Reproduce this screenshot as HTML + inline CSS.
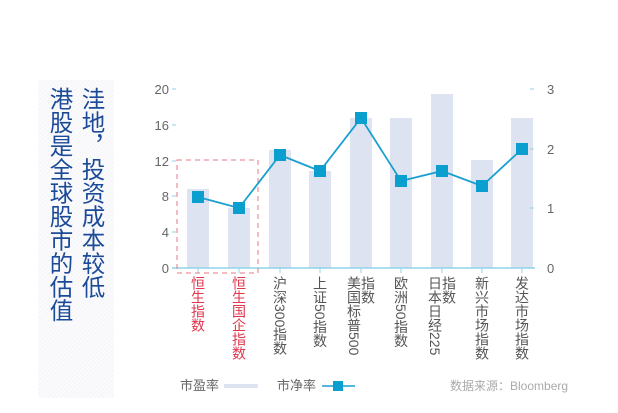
<!DOCTYPE html><html><head><meta charset="utf-8"><style>
body{margin:0;width:618px;height:413px;background:#fff;overflow:hidden;position:relative;font-family:"Liberation Sans","Noto Sans CJK SC",sans-serif}
.panel{position:absolute;left:38px;top:80px;width:76px;height:318px;background:repeating-linear-gradient(135deg,#f4f5f8 0 1px,#fbfbfd 1px 3px)}
.t{position:absolute;writing-mode:vertical-rl;color:#1b4a98;font-size:23.5px;line-height:23.5px}
.lab{position:absolute;top:276px;writing-mode:vertical-lr;font-size:14px;line-height:14px;color:#555}
.red{color:#e0364e}
</style></head><body>
<div class="panel"></div>
<div class="t" style="left:47px;top:87px">港股是全球股市的估值</div>
<div class="t" style="left:79px;top:87px">洼地，投资成本较低</div>
<svg width="618" height="413" style="position:absolute;left:0;top:0" font-family="Liberation Sans" font-size="13" fill="#666">
<g fill="#dde3f0">
<rect x="187" y="189" width="22" height="79"/><rect x="228" y="208" width="22" height="60"/>
<rect x="269" y="150" width="22" height="118"/><rect x="309" y="171" width="22" height="97"/>
<rect x="350" y="118" width="22" height="150"/><rect x="390" y="118" width="22" height="150"/>
<rect x="431" y="94" width="22" height="174"/><rect x="471" y="160" width="22" height="108"/>
<rect x="511" y="118" width="22" height="150"/></g>
<line x1="172" y1="268" x2="535" y2="268" stroke="#8fd3e8" stroke-width="1.5"/>
<g stroke="#8fd3e8"><line x1="172" y1="89" x2="176" y2="89"/><line x1="172" y1="125" x2="176" y2="125"/><line x1="172" y1="161" x2="176" y2="161"/><line x1="172" y1="196" x2="176" y2="196"/><line x1="172" y1="232" x2="176" y2="232"/>
<line x1="530" y1="89" x2="534" y2="89"/><line x1="530" y1="149" x2="534" y2="149"/><line x1="530" y1="208" x2="534" y2="208"/>
<line x1="198" y1="268" x2="198" y2="273"/><line x1="239" y1="268" x2="239" y2="273"/><line x1="280" y1="268" x2="280" y2="273"/><line x1="320" y1="268" x2="320" y2="273"/><line x1="361" y1="268" x2="361" y2="273"/><line x1="401" y1="268" x2="401" y2="273"/><line x1="442" y1="268" x2="442" y2="273"/><line x1="482" y1="268" x2="482" y2="273"/><line x1="522" y1="268" x2="522" y2="273"/></g>
<g text-anchor="end"><text x="169" y="94">20</text><text x="169" y="130">16</text><text x="169" y="166">12</text><text x="169" y="201">8</text><text x="169" y="237">4</text><text x="169" y="273">0</text></g>
<text x="547" y="94">3</text><text x="547" y="154">2</text><text x="547" y="213">1</text><text x="547" y="273">0</text>
<rect x="177" y="160" width="81" height="113" fill="none" stroke="#e57a86" stroke-dasharray="5,4"/>
<polyline points="198,197 239,208 280,155 320,171 361,118 401,181 442,171 482,186 522,149" fill="none" stroke="#1a9fd0" stroke-width="1.8"/>
<g fill="#0b9fd0"><rect x="192" y="191" width="12" height="12"/><rect x="233" y="202" width="12" height="12"/><rect x="274" y="149" width="12" height="12"/><rect x="314" y="165" width="12" height="12"/><rect x="355" y="112" width="12" height="12"/><rect x="395" y="175" width="12" height="12"/><rect x="436" y="165" width="12" height="12"/><rect x="476" y="180" width="12" height="12"/><rect x="516" y="143" width="12" height="12"/></g>
<text x="180" y="390" font-size="13" font-family="Noto Sans CJK SC">市盈率</text>
<rect x="224" y="384" width="34" height="4" fill="#dde3f0"/>
<text x="277" y="390" font-size="13" font-family="Noto Sans CJK SC">市净率</text>
<line x1="322" y1="386" x2="355" y2="386" stroke="#1a9fd0" stroke-width="1.5"/><rect x="333" y="381" width="10" height="10" fill="#0b9fd0"/>
<text x="450" y="390" font-size="12" fill="#aaa" font-family="Liberation Sans,Noto Sans CJK SC">数据来源：Bloomberg</text>
</svg>
<div class="lab red" style="left:191px">恒生指数</div>
<div class="lab red" style="left:232px">恒生国企指数</div>
<div class="lab" style="left:273px">沪深300指数</div>
<div class="lab" style="left:313px">上证50指数</div>
<div class="lab" style="left:347px">美国标普500<br>指数</div>
<div class="lab" style="left:394px">欧洲50指数</div>
<div class="lab" style="left:428px">日本日经225<br>指数</div>
<div class="lab" style="left:475px">新兴市场指数</div>
<div class="lab" style="left:515px">发达市场指数</div>
</body></html>
